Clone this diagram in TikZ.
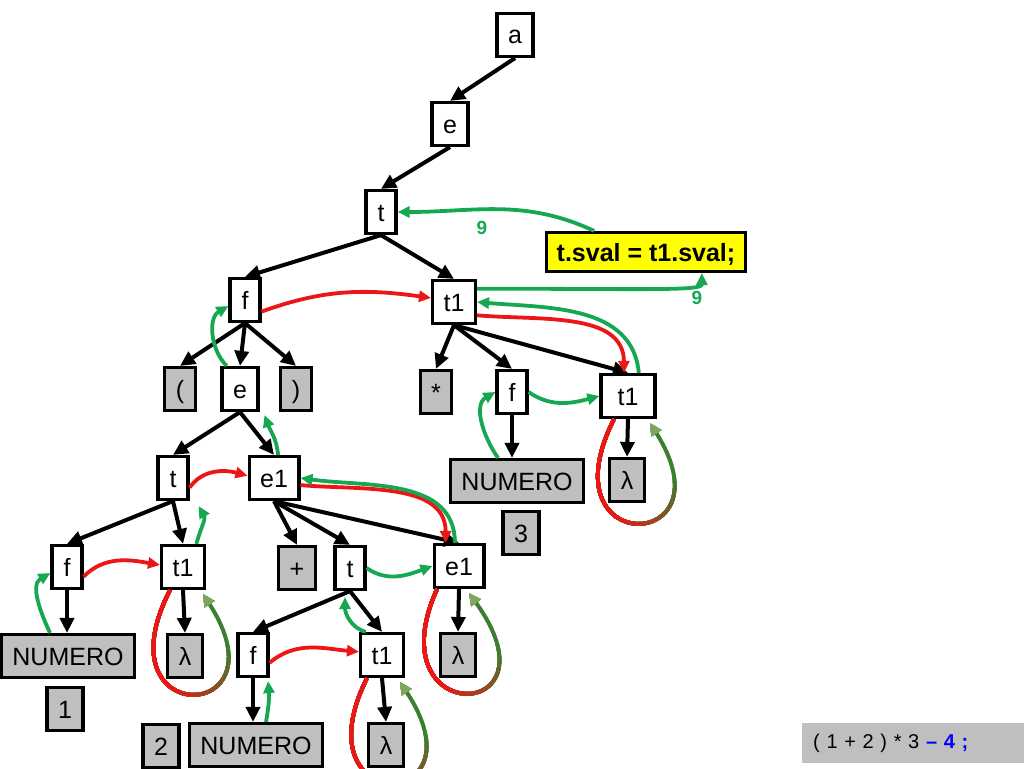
\documentclass[tikz,border=0pt]{standalone}
\usepackage{fontspec}
\setmainfont{Liberation Sans}
\usepackage{xcolor}
\usetikzlibrary{arrows.meta}
\definecolor{synth}{RGB}{22,168,80}
\definecolor{inher}{RGB}{236,22,22}
\definecolor{lpgreen}{RGB}{58,128,48}
\definecolor{lpolive}{RGB}{126,166,96}
\definecolor{codebg}{RGB}{255,255,0}

\begin{document}
\begin{tikzpicture}[x=1pt,y=1pt,font=\fontsize{25}{30}\selectfont,
  nterm/.style={draw,line width=3.2pt,fill=white,minimum width=30pt,minimum height=43pt,
    inner xsep=11pt,inner ysep=0pt,text height=18pt,text depth=0pt},
  term/.style={nterm,fill=gray!50},
  tree/.style={line width=4pt,-{Triangle[length=15pt,width=14pt]}},
  syn/.style={line width=3.8pt,draw=synth,-{Triangle[length=12pt,width=11pt]}},
  inh/.style={line width=3.8pt,draw=inher,-{Triangle[length=12pt,width=11pt]}},
  lamline/.style={line width=3.8pt,-{Triangle[length=12pt,width=11pt,color=lpolive]}},
  lbl/.style={text=synth,font=\fontsize{19}{22}\selectfont\bfseries}]
  \useasboundingbox (0,0) rectangle (1024,-768);
  % the tree
  \node[nterm] (a) at (515,-35) {a};
  \node[nterm] (e) at (450,-124) {e};
  \node[nterm] (t) at (381,-212) {t};
  \node[draw,line width=3.2pt,fill=codebg,inner xsep=10pt,minimum height=39pt,
    text height=18pt,text depth=0pt,font=\fontsize{25}{30}\selectfont\bfseries]
    (code) at (646,-252) {t.sval = t1.sval;};
  \node[nterm] (f) at (245,-300) {f};
  \node[nterm] (t1) at (454,-302) {t1};
  \node[term] (lp) at (180,-389) {(};
  \node[nterm] (ee) at (240,-389) {e};
  \node[term] (rp) at (296,-389) {)};
  \node[term] (star) at (436,-392) {*};
  \node[nterm] (ff) at (512,-392) {f};
  \node[nterm,minimum width=54pt] (tt1) at (628,-396) {t1};
  \node[term] (num3) at (517,-481) {NUMERO};
  \node[term] (lam3) at (627,-480) {λ};
  \node[term] (n3) at (521,-533) {3};
  \node[nterm] (tl) at (173,-478) {t};
  \node[nterm] (e1) at (274,-478) {e1};
  \node[nterm] (fl) at (67,-567) {f};
  \node[nterm] (t1l) at (183,-567) {t1};
  \node[term] (plus) at (297,-568) {+};
  \node[nterm] (tm) at (350,-568) {t};
  \node[nterm] (e1r) at (459,-566) {e1};
  \node[term] (num1) at (68,-656) {NUMERO};
  \node[term] (lam1) at (185,-656) {λ};
  \node[term] (n1) at (65,-709) {1};
  \node[nterm] (fb) at (253,-655) {f};
  \node[nterm] (t1b) at (382,-655) {t1};
  \node[term] (lam2) at (458,-655) {λ};
  \node[term] (n2) at (161,-746) {2};
  \node[term] (num2) at (256,-745) {NUMERO};
  \node[term] (lamb) at (386,-745) {λ};
  \node[fill=gray!50,anchor=west,text width=200pt,align=left,minimum height=40pt,
    inner xsep=11pt,inner ysep=0pt,font=\fontsize{20}{24}\selectfont] (expr) at (802,-743)
    {( 1 + 2 ) * 3 \textbf{\textcolor{blue}{– 4 ;}}};

  \draw[tree] (a.south) -- (e.north);
  \draw[tree] (e.south) -- (t.north);
  \draw[tree] (t.south) -- (f.north);
  \draw[tree] (t.south) -- (t1.north);
  \draw[tree] (f.south) -- (lp.north);
  \draw[tree] (f.south) -- (ee.north);
  \draw[tree] (f.south) -- (rp.north);
  \draw[tree] (t1.south) -- (star.north);
  \draw[tree] (t1.south) -- (ff.north);
  \draw[tree] (t1.south) -- (tt1.north);
  \draw[tree] (ff.south) -- (num3.north -| ff.south);
  \draw[tree] (tt1.south) -- (lam3.north);
  \draw[tree] (ee.south) -- (tl.north);
  \draw[tree] (ee.south) -- (e1.north);
  \draw[tree] (tl.south) -- (fl.north);
  \draw[tree] (tl.south) -- (t1l.north);
  \draw[tree] (e1.south) -- (plus.north);
  \draw[tree] (e1.south) -- (tm.north);
  \draw[tree] (e1.south) -- (e1r.north);
  \draw[tree] (fl.south) -- (num1.north -| fl.south);
  \draw[tree] (t1l.south) -- (lam1.north);
  \draw[tree] (tm.south) -- (fb.north);
  \draw[tree] (tm.south) -- (t1b.north);
  \draw[tree] (fb.south) -- (num2.north -| fb.south);
  \draw[tree] (t1b.south) -- (lamb.north);
  \draw[tree] (e1r.south) -- (lam2.north);

  % inherited
  \draw[inh] (f.-35) to[out=20,in=172] (t1.170);
  \draw[inh] (t1.-30) to[out=-5,in=90] (tt1.100);
  \draw[inh] (tl.-30) to[out=55,in=165] (e1.175);
  \draw[inh] (e1.-15) to[out=-5,in=90] (e1r.120);
  \draw[inh] (fl.-30) to[out=45,in=170] (t1l.175);
  \draw[inh] (fb.-25) to[out=40,in=175] (t1b.172);

  % synthesized
  \draw[syn] ([xshift=-18pt]num1.north) to[out=115,in=210] (fl.200);
  \draw[syn] (t1l.60) to[out=75,in=-60] ([shift={(9pt,-5pt)}]tl.south east);
  \draw[syn] (e1.80) to[out=95,in=-70] ([shift={(5pt,-3pt)}]ee.south east);
  \draw[syn] (ee.120) to[out=135,in=210] (f.200);
  \draw[syn] (tm.east) to[out=-35,in=200] (e1r.west);
  \draw[syn] (t1b.125) to[out=165,in=-90] ([shift={(-5pt,-6pt)}]tm.south);
  \draw[syn] ([xshift=10pt]num2.north) to[out=80,in=-85] ([shift={(15pt,-3pt)}]fb.south);
  \draw[syn] (e1r.100) to[out=90,in=-8] (e1.east);
  \draw[syn] ([xshift=-19pt]num3.north) to[out=125,in=210] (ff.west);
  \draw[syn] (ff.east) to[out=-35,in=195] (tt1.west);
  \draw[syn] (tt1.65) to[out=95,in=-5] (t1.east);
  \draw[syn] (t1.30) to[out=0,in=-90,out distance=170pt,in distance=18pt]
    ([xshift=-45pt]code.south east);
  \draw[syn] ([xshift=49pt]code.north west) to[out=155,in=0] (t.east);
  \node[lbl] (nine1) at (482,-228) {9};
  \node[lbl] (nine2) at (697,-298) {9};

  % lambda loops, red fading to green
  \foreach \nd/\sx/\ex in {t1l/-13/20,tt1/-14/22,e1r/-22/10,t1b/-15/18}{
    \draw[lamline,draw=lpolive]
      ([xshift=\sx pt]\nd.south) .. controls ([shift={(-85pt,-140pt)}]\nd.south)
      and ([shift={(105pt,-135pt)}]\nd.south) .. ([shift={(\ex pt,-4pt)}]\nd.south);
    \draw[lamline,draw=lpgreen,dash pattern=on 255pt off 900pt]
      ([xshift=\sx pt]\nd.south) .. controls ([shift={(-85pt,-140pt)}]\nd.south)
      and ([shift={(105pt,-135pt)}]\nd.south) .. ([shift={(\ex pt,-4pt)}]\nd.south);
    \foreach \k [evaluate=\k as \L using 200-6*\k,evaluate=\k as \p using 100*\k/15] in {0,...,15}
      \draw[lamline,draw=inher!\p!lpgreen,dash pattern=on \L pt off 900pt]
        ([xshift=\sx pt]\nd.south) .. controls ([shift={(-85pt,-140pt)}]\nd.south)
        and ([shift={(105pt,-135pt)}]\nd.south) .. ([shift={(\ex pt,-4pt)}]\nd.south);
  }
\end{tikzpicture}
\end{document}
